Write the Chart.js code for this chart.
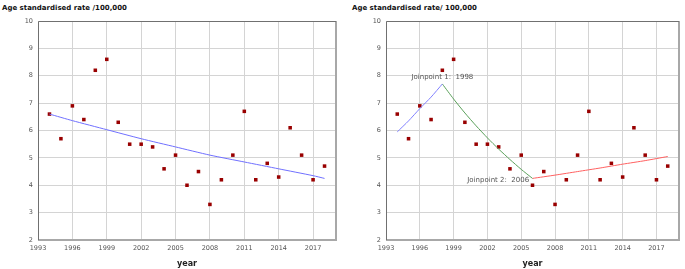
<!DOCTYPE html>
<html>
<head>
<meta charset="utf-8">
<script src="https://cdn.jsdelivr.net/npm/chart.js@4"></script>
<style>
  body { margin: 0; background: #fff; }
  .panel { position: absolute; top: 0; width: 342px; height: 269px; }
  .panel canvas { position: absolute; left: 0; top: 0; }
  .title { position: absolute; top: 4px; font: bold 7px "DejaVu Sans", sans-serif; color: #111; white-space: nowrap; }
</style>
</head>
<body>
<div class="panel" style="left:0">
  <div class="title" style="left:2px">Age standardised rate /100,000</div>
  <canvas id="left" width="342" height="269"></canvas>
</div>
<div class="panel" style="left:348px">
  <div class="title" style="left:4px">Age standardised rate/ 100,000</div>
  <canvas id="right" width="337" height="269"></canvas>
</div>
<script>
// observed rates
const years = [1994, 1995, 1996, 1997, 1998, 1999, 2000, 2001, 2002, 2003, 2004, 2005, 2006,
               2007, 2008, 2009, 2010, 2011, 2012, 2013, 2014, 2015, 2016, 2017, 2018];
const rates = [6.6, 5.7, 6.9, 6.4, 8.2, 8.6, 6.3, 5.5, 5.5, 5.4, 4.6, 5.1, 4.0,
               4.5, 3.3, 4.2, 5.1, 6.7, 4.2, 4.8, 4.3, 6.1, 5.1, 4.2, 4.7];

// single trend (left panel)
const trendYears = [1994, 1996, 1999, 2002, 2005, 2008, 2011, 2014, 2017, 2018];
const trendVals  = [6.6, 6.36, 6.03, 5.7, 5.4, 5.1, 4.85, 4.6, 4.35, 4.25];

// joinpoint segments (right panel)
const seg1Years = [1994, 1995, 1996, 1997, 1998];
const seg1Vals  = [5.95, 6.35, 6.8, 7.22, 7.7];
const seg2Years = [1998, 1999, 2000, 2001, 2002, 2003, 2004, 2005, 2006];
const seg2Vals  = [7.7, 7.15, 6.64, 6.17, 5.73, 5.32, 4.94, 4.58, 4.25];
const seg3Years = [2006, 2008, 2010, 2012, 2014, 2016, 2018];
const seg3Vals  = [4.25, 4.37, 4.5, 4.63, 4.77, 4.9, 5.05];

const joinLabels = [
    { text: 'Joinpoint 1:  1998', x: 1998, y: 7.95, align: 'center' },
    { text: 'Joinpoint 2:  2006', x: 2005.7, y: 4.17, align: 'right' }
];

const toXY = (xs, ys) => xs.map((x, i) => ({ x: x, y: ys[i] }));

function lineSet(xs, ys, color) {
    return {
        type: 'line',
        data: toXY(xs, ys),
        borderColor: color,
        borderWidth: 1,
        pointRadius: 0,
        fill: false,
        tension: 0.2
    };
}

const frame = {
    id: 'frame',
    afterDraw(chart) {
        const a = chart.chartArea, ctx = chart.ctx;
        ctx.save();
        ctx.strokeStyle = '#a8a8a8';
        ctx.lineWidth = 2;
        ctx.beginPath();
        ctx.moveTo(a.right, a.top);
        ctx.lineTo(a.right, a.bottom);
        ctx.lineTo(a.left, a.bottom);
        ctx.stroke();
        ctx.strokeStyle = '#707070';
        ctx.lineWidth = 1;
        ctx.beginPath();
        ctx.moveTo(a.left + 0.5, a.bottom);
        ctx.lineTo(a.left + 0.5, a.top + 0.5);
        ctx.lineTo(a.right, a.top + 0.5);
        ctx.stroke();
        ctx.restore();
    }
};

const notes = {
    id: 'notes',
    afterDatasetsDraw(chart, args, opts) {
        if (!opts.items) return;
        const ctx = chart.ctx;
        ctx.save();
        ctx.font = '7px "DejaVu Sans", sans-serif';
        ctx.fillStyle = '#555';
        ctx.textBaseline = 'middle';
        opts.items.forEach(n => {
            ctx.textAlign = n.align;
            ctx.fillText(n.text, chart.scales.x.getPixelForValue(n.x), chart.scales.y.getPixelForValue(n.y));
        });
        ctx.restore();
    }
};

function makeChart(id, lines, items) {
    const tickFont = { family: 'DejaVu Sans', size: 6.5 };
    return new Chart(document.getElementById(id), {
        type: 'scatter',
        data: {
            datasets: [
                ...lines,
                {
                    data: toXY(years, rates),
                    backgroundColor: '#990000',
                    borderColor: '#990000',
                    pointStyle: 'rect',
                    pointRadius: 2.5,
                    borderWidth: 0
                }
            ]
        },
        options: {
            responsive: false,
            animation: false,
            layout: { padding: { top: 21, right: 6, left: 0, bottom: 0 } },
            plugins: {
                legend: { display: false },
                tooltip: { enabled: false },
                notes: { items: items }
            },
            scales: {
                x: {
                    type: 'linear',
                    min: 1993,
                    max: 2019,
                    afterBuildTicks: s => { s.ticks = [1993, 1996, 1999, 2002, 2005, 2008, 2011, 2014, 2017].map(v => ({ value: v })); },
                    afterFit: s => { s.height = 29; },
                    grid: { color: '#d4d4d4', drawTicks: false },
                    border: { display: false },
                    ticks: { font: tickFont, color: '#555', padding: 4, maxRotation: 0, callback: v => String(v) },
                    title: { display: true, text: 'year', font: { family: 'DejaVu Sans', size: 8, weight: 'bold' }, color: '#222', padding: { top: 3, bottom: 0 } }
                },
                y: {
                    min: 2,
                    max: 10,
                    afterFit: s => { s.width = 38; },
                    grid: { color: '#d4d4d4', drawTicks: false },
                    border: { display: false },
                    ticks: { stepSize: 1, font: tickFont, color: '#555', padding: 5 }
                }
            }
        },
        plugins: [frame, notes]
    });
}

makeChart('left', [lineSet(trendYears, trendVals, '#7070ff')], null);
makeChart('right', [
    lineSet(seg1Years, seg1Vals, '#8080ff'),
    lineSet(seg2Years, seg2Vals, '#5aa05a'),
    lineSet(seg3Years, seg3Vals, '#ff6060')
], joinLabels);
</script>
</body>
</html>
